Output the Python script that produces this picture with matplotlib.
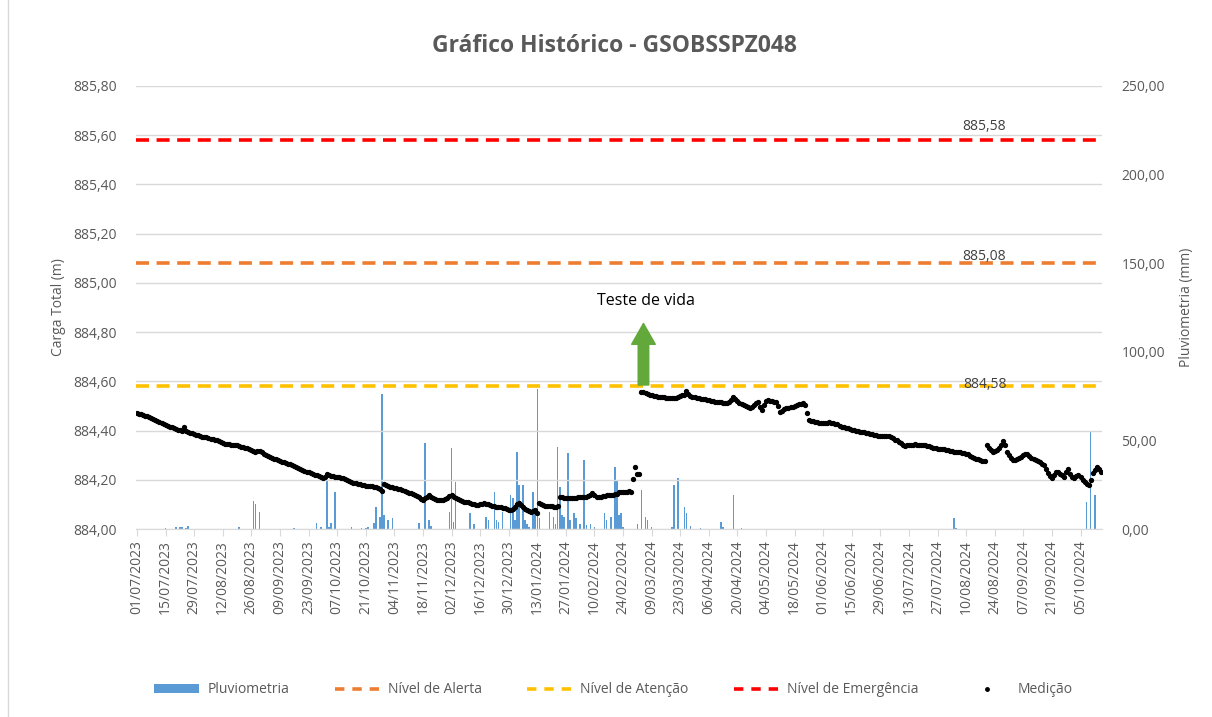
import numpy as np
import pandas as pd
import matplotlib
matplotlib.use("Agg")
import matplotlib.pyplot as plt
import matplotlib.dates as mdates
from matplotlib.ticker import FuncFormatter, MultipleLocator
from matplotlib.lines import Line2D
from matplotlib.patches import Patch

plt.rcParams['font.family'] = ['Open Sans', 'DejaVu Sans']

# Medição diária (m), começando em 01/07/2023
inicio_medicao = '2023-07-01'
medicao = [
    884.470, 884.468, 884.466, 884.463, 884.461, 884.458, 884.456, 884.452, 884.448, 884.444, 884.439, 884.436, 884.432, 884.427,
    884.423, 884.419, 884.416, 884.413, 884.410, 884.407, 884.404, 884.402, 884.400, 884.416, 884.398, 884.394, 884.390, 884.388,
    884.384, 884.382, 884.380, 884.378, 884.375, 884.374, 884.372, 884.370, 884.367, 884.365, 884.363, 884.360, 884.357, 884.353,
    884.349, 884.347, 884.346, 884.345, 884.343, 884.342, 884.341, 884.340, 884.338, 884.335, 884.333, 884.330, 884.328, 884.325,
    884.321, 884.317, 884.314, 884.316, 884.318, 884.311, 884.304, 884.299, 884.295, 884.292, 884.289, 884.286, 884.283, 884.280,
    884.277, 884.274, 884.272, 884.269, 884.266, 884.263, 884.260, 884.257, 884.253, 884.249, 884.245, 884.241, 884.236, 884.233,
    884.230, 884.227, 884.224, 884.221, 884.218, 884.214, 884.210, 884.206, 884.213, 884.222, 884.218, 884.215, 884.214, 884.213,
    884.212, 884.210, 884.209, 884.206, 884.204, 884.200, 884.196, 884.192, 884.188, 884.185, 884.183, 884.181, 884.179, 884.177,
    884.176, 884.175, 884.174, 884.173, 884.172, 884.171, 884.167, 884.163, 884.155, 884.182, 884.178, 884.175, 884.172, 884.170,
    884.168, 884.166, 884.164, 884.162, 884.159, 884.156, 884.152, 884.148, 884.145, 884.141, 884.137, 884.133, 884.128, 884.123,
    884.118, 884.124, 884.132, 884.137, 884.131, 884.124, 884.120, 884.119, 884.118, 884.118, 884.117, 884.121, 884.127, 884.133,
    884.138, 884.130, 884.124, 884.120, 884.116, 884.112, 884.111, 884.110, 884.108, 884.105, 884.103, 884.101, 884.099, 884.098,
    884.100, 884.102, 884.104, 884.103, 884.100, 884.097, 884.095, 884.093, 884.091, 884.090, 884.088, 884.086, 884.084, 884.080,
    884.078, 884.077, 884.080, 884.090, 884.100, 884.104, 884.097, 884.088, 884.083, 884.078, 884.072, 884.070, 884.075, 884.077,
    884.066, 884.104, 884.100, 884.096, 884.094, 884.093, 884.093, 884.092, 884.091, 884.090, 884.092, 884.130, 884.129, 884.127,
    884.126, 884.125, 884.125, 884.124, 884.125, 884.126, 884.128, 884.130, 884.131, 884.130, 884.131, 884.135, 884.140, 884.145,
    884.138, 884.132, 884.131, 884.132, 884.134, 884.135, 884.137, 884.138, 884.137, 884.139, 884.141, 884.144, 884.150, 884.152,
    884.151, 884.150, 884.152, 884.153, 884.152, 884.203, 884.251, 884.222, 884.222, 884.558, 884.556, 884.552, 884.549, 884.546,
    884.543, 884.541, 884.540, 884.538, 884.537, 884.536, 884.535, 884.534, 884.533, 884.532, 884.531, 884.532, 884.534, 884.536,
    884.540, 884.543, 884.545, 884.562, 884.548, 884.540, 884.538, 884.535, 884.533, 884.531, 884.530, 884.528, 884.527, 884.525,
    884.523, 884.521, 884.519, 884.517, 884.516, 884.515, 884.514, 884.513, 884.512, 884.511, 884.516, 884.525, 884.538, 884.528,
    884.520, 884.511, 884.507, 884.503, 884.498, 884.494, 884.491, 884.497, 884.505, 884.512, 884.514, 884.496, 884.484, 884.505,
    884.522, 884.524, 884.520, 884.518, 884.517, 884.515, 884.500, 884.477, 884.480, 884.486, 884.491, 884.493, 884.495, 884.497,
    884.500, 884.503, 884.506, 884.509, 884.511, 884.505, 884.470, 884.443, 884.440, 884.437, 884.435, 884.433, 884.431, 884.430,
    884.430, 884.431, 884.432, 884.433, 884.432, 884.430, 884.428, 884.425, 884.420, 884.416, 884.414, 884.412, 884.410, 884.408,
    884.404, 884.402, 884.400, 884.398, 884.396, 884.394, 884.393, 884.392, 884.389, 884.387, 884.385, 884.383, 884.381, 884.379,
    884.376, 884.376, 884.377, 884.378, 884.378, 884.374, 884.368, 884.363, 884.361, 884.355, 884.348, 884.342, 884.339, 884.340,
    884.341, 884.342, 884.343, 884.345, 884.343, 884.342, 884.341, 884.341, 884.340, 884.338, 884.336, 884.334, 884.331, 884.328,
    884.326, 884.325, 884.324, 884.323, 884.321, 884.320, 884.318, 884.316, 884.314, 884.313, 884.312, 884.311, 884.310, 884.309,
    884.306, 884.303, 884.298, 884.293, 884.288, 884.285, 884.283, 884.281, 884.278, 884.275, 884.341, 884.330, 884.320, 884.314,
    884.318, 884.322, 884.328, 884.340, 884.358, 884.340, 884.314, 884.300, 884.290, 884.282, 884.280, 884.285, 884.287, 884.292,
    884.300, 884.303, 884.305, 884.298, 884.290, 884.284, 884.280, 884.278, 884.272, 884.266, 884.260, 884.245, 884.226, 884.215,
    884.206, 884.220, 884.230, 884.233, 884.225, 884.218, 884.213, 884.230, 884.243, 884.225, 884.212, 884.206, 884.215, 884.219,
    884.210, 884.200, 884.190, 884.182, 884.179, 884.200, 884.226, 884.240, 884.251, 884.245, 884.233,
]

# Pluviometria (mm)
chuva_datas = [
    '2023-07-15', '2023-07-20', '2023-07-22', '2023-07-23', '2023-07-25', '2023-07-26', '2023-08-20',
    '2023-08-27', '2023-08-28', '2023-08-30', '2023-09-16', '2023-09-27', '2023-09-29', '2023-10-02',
    '2023-10-03', '2023-10-04', '2023-10-06', '2023-10-14', '2023-10-19', '2023-10-21', '2023-10-22',
    '2023-10-25', '2023-10-26', '2023-10-28', '2023-10-29', '2023-10-30', '2023-11-01', '2023-11-03',
    '2023-11-16', '2023-11-19', '2023-11-21', '2023-11-22', '2023-12-01', '2023-12-02', '2023-12-03',
    '2023-12-04', '2023-12-11', '2023-12-13', '2023-12-19', '2023-12-20', '2023-12-23', '2023-12-24',
    '2023-12-25', '2023-12-27', '2023-12-31', '2024-01-01', '2024-01-02', '2024-01-03', '2024-01-04',
    '2024-01-06', '2024-01-07', '2024-01-08', '2024-01-09', '2024-01-11', '2024-01-12', '2024-01-13',
    '2024-01-14', '2024-01-19', '2024-01-21', '2024-01-22', '2024-01-23', '2024-01-24', '2024-01-25',
    '2024-01-26', '2024-01-28', '2024-01-29', '2024-01-31', '2024-02-01', '2024-02-03', '2024-02-05',
    '2024-02-06', '2024-02-08', '2024-02-10', '2024-02-15', '2024-02-16', '2024-02-18', '2024-02-20',
    '2024-02-21', '2024-02-22', '2024-02-23', '2024-02-24', '2024-03-02', '2024-03-04', '2024-03-06',
    '2024-03-07', '2024-03-09', '2024-03-19', '2024-03-20', '2024-03-22', '2024-03-25', '2024-03-26',
    '2024-03-28', '2024-04-02', '2024-04-12', '2024-04-13', '2024-04-18', '2024-04-22', '2024-08-04',
    '2024-08-05', '2024-10-08', '2024-10-10', '2024-10-12',
]
chuva_mm = [
    0.8, 1.3, 1.0, 1.2, 0.8, 1.5, 1.0,
    15.8, 14.0, 9.4, 0.8, 3.2, 1.0, 27.0,
    1.3, 3.6, 21.0, 1.0, 0.6, 0.8, 1.3,
    3.2, 12.6, 7.0, 76.0, 8.0, 5.0, 6.0,
    3.2, 48.8, 5.0, 1.5, 9.8, 45.5, 4.0,
    26.7, 8.8, 3.0, 7.0, 5.0, 21.0, 5.0,
    4.0, 9.8, 19.2, 17.3, 5.0, 43.6, 24.8,
    24.8, 5.0, 3.0, 1.0, 21.0, 10.7, 78.8,
    6.0, 9.8, 7.0, 3.0, 46.4, 23.9, 8.0,
    7.0, 42.7, 5.0, 8.8, 6.0, 3.0, 39.0,
    2.0, 3.0, 1.0, 8.8, 5.0, 7.0, 35.0,
    27.6, 8.0, 8.8, 1.0, 3.0, 22.0, 7.0,
    5.0, 1.0, 1.0, 24.8, 28.6, 12.6, 8.8,
    1.5, 0.8, 4.0, 1.0, 19.2, 0.8, 6.0,
    0.8, 15.4, 55.0, 19.2,
]

nivel_emergencia = 885.58
nivel_alerta = 885.08
nivel_atencao = 884.58
rotulos_niveis = ['885,58', '885,08', '884,58']

cinza = '#595959'
azul = '#5B9BD5'
laranja = '#ED7D31'
amarelo = '#FFC000'
vermelho = '#FF0000'

datas_med = pd.date_range(inicio_medicao, periods=len(medicao), freq='D')
datas_chuva = pd.to_datetime(chuva_datas)
ticks = pd.date_range('2023-07-01', '2024-10-05', freq='14D')

fig = plt.figure(figsize=(12.12, 7.17), dpi=100)
ax = fig.add_axes([0.1122, 0.2622, 0.797, 0.618])
ax2 = ax.twinx()
ax.set_zorder(ax2.get_zorder() + 1)
ax.patch.set_visible(False)

# barras de chuva no eixo secundario
ax2.bar(datas_chuva, chuva_mm, width=0.75, color=azul, zorder=2)
ax2.set_ylim(0, 250)
ax2.yaxis.set_major_locator(MultipleLocator(50))
ax2.yaxis.set_major_formatter(FuncFormatter(lambda v, _: f"{v:.2f}".replace('.', ',')))

# niveis
x0 = pd.Timestamp('2023-06-30 12:00')
x1 = pd.Timestamp('2024-10-15 12:00')
kw = dict(linewidth=2.6, dashes=(3.6, 2.1), zorder=3)
ax.plot([x0, x1], [nivel_emergencia] * 2, color=vermelho, **kw)
ax.plot([x0, x1], [nivel_alerta] * 2, color=laranja, **kw)
ax.plot([x0, x1], [nivel_atencao] * 2, color=amarelo, **kw)

ax.plot(datas_med, medicao, linestyle='none', marker='o', markersize=2.8,
        color='black', zorder=4)

# rotulos dos niveis
xr = pd.Timestamp('2024-08-19')
ax.text(xr, nivel_emergencia + 0.055, rotulos_niveis[0], ha='center', va='center', fontsize=10, color='#404040')
ax.text(xr, nivel_alerta + 0.028, rotulos_niveis[1], ha='center', va='center', fontsize=10, color='#404040')
ax.text(xr, nivel_atencao + 0.005, rotulos_niveis[2], ha='center', va='center', fontsize=10, color='#404040')

# anotacao
xa = pd.Timestamp('2024-03-05')
ax.annotate('', xy=(xa, 884.835), xytext=(xa, 884.585),
            arrowprops=dict(arrowstyle='simple,head_length=0.75,head_width=0.85,tail_width=0.38',
                            color='#62A83A', mutation_scale=20, shrinkA=0, shrinkB=0), zorder=5)
ax.text(pd.Timestamp('2024-03-06'), 884.925, 'Teste de vida', ha='center', va='center', fontsize=11.5, color='black')

ax.set_xlim(x0, x1)
ax.set_ylim(884.0, 885.8)
ax.yaxis.set_major_locator(MultipleLocator(0.2))
ax.yaxis.set_major_formatter(FuncFormatter(lambda v, _: f"{v:.2f}".replace('.', ',')))
ax.grid(axis='y', color='#D9D9D9', linewidth=1, zorder=0)
ax.set_axisbelow(True)

ax.set_xticks(ticks)
ax.xaxis.set_major_formatter(mdates.DateFormatter('%d/%m/%Y'))
plt.setp(ax.get_xticklabels(), rotation=90)

for a in (ax, ax2):
    for s in a.spines.values():
        s.set_visible(False)
    a.tick_params(axis='y', length=0, labelsize=10, labelcolor=cinza, pad=14)
ax.spines['bottom'].set_visible(True)
ax.spines['bottom'].set_color('#D9D9D9')
ax.tick_params(axis='x', length=5, color='#D9D9D9', labelsize=10, labelcolor=cinza, pad=3)

ax.set_ylabel('Carga Total (m)', fontsize=10, color=cinza, labelpad=5)
ax2.set_ylabel('Pluviometria (mm)', fontsize=10, color=cinza, labelpad=10)

fig.suptitle('Gráfico Histórico - GSOBSSPZ048', x=0.507, y=0.952, fontsize=16.5,
             fontweight='bold', color=cinza)

handles = [
    Patch(facecolor=azul, edgecolor='none'),
    Line2D([], [], color=laranja, linewidth=2.6, dashes=(2.6, 2.2)),
    Line2D([], [], color=amarelo, linewidth=2.6, dashes=(2.6, 2.2)),
    Line2D([], [], color=vermelho, linewidth=2.6, dashes=(2.6, 2.2)),
    Line2D([], [], linestyle='none', marker='o', markersize=2.5, color='black'),
]
labels = ['Pluviometria', 'Nível de Alerta', 'Nível de Atenção', 'Nível de Emergência', 'Medição']
fig.legend(handles, labels, loc='center', bbox_to_anchor=(0.506, 0.038), ncol=5,
           frameon=False, fontsize=10, labelcolor=cinza, handlelength=3.2,
           handleheight=0.6, columnspacing=3.3, handletextpad=0.6)

fig.add_artist(Line2D([8 / 1212, 8 / 1212], [0, 1], transform=fig.transFigure,
                      color='#D9D9D9', linewidth=1))

fig.savefig('out.png', dpi=100)
